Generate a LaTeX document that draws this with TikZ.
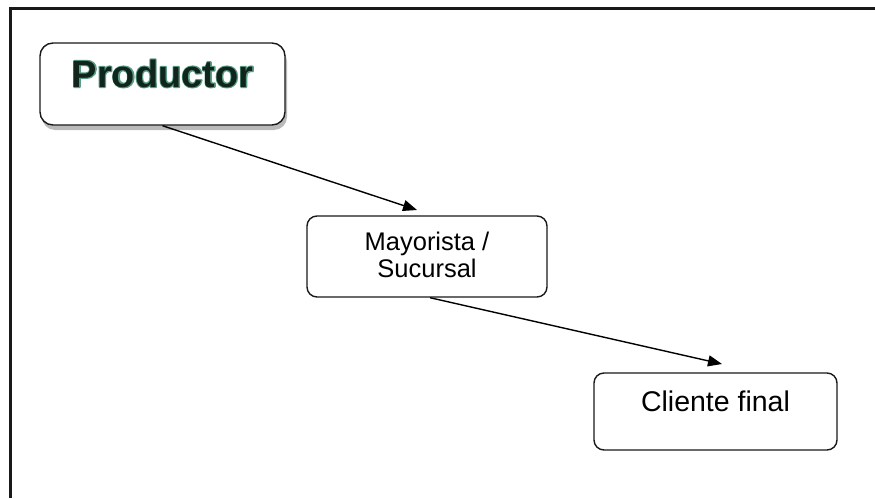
\documentclass[tikz,border=0pt]{standalone}
\usepackage{fontspec}
\setmainfont{Liberation Sans}
\usepackage{xcolor}
\usepackage{tikz}
\usetikzlibrary{arrows.meta,shadows}
\definecolor{prodgreen}{HTML}{10261C}
% halo round the bold title, as in the reference
\newcommand{\glowtext}[1]{\rlap{\special{pdf:code q 1 Tr 0.36 0.62 0.52 RG 2.2 w 1 j}#1\special{pdf:code Q}}#1}
\tikzset{
  chainbox/.style={draw=black!90,line width=1.4pt,rounded corners=10pt,fill=white,inner sep=0pt},
  prodbox/.style={chainbox,rounded corners=13pt,
    drop shadow={shadow xshift=2pt,shadow yshift=-5pt,fill=black!45,opacity=0.6}},
  flowedge/.style={-{Triangle[length=14pt,width=11pt]},line width=1.4pt,black},
  frameline/.style={line width=2.4pt,black!90},
}

\begin{document}
\begin{tikzpicture}[x=1pt,y=-1pt]
    \useasboundingbox (0,0) rectangle (875,498);
    \draw[frameline] (10.5,498) -- (10.5,8.5) -- (875,8.5);
    \node[prodbox,minimum width=245pt,text height=44pt,text depth=38pt,
      font=\fontsize{38}{42}\selectfont\bfseries,text=prodgreen] (prod) at (162.5,84) {\glowtext{Productor}};
    \node[chainbox,minimum width=240pt,text height=61pt,text depth=20pt,align=center,
      font=\fontsize{25.5}{27}\selectfont] (may) at (427,256.5) {Mayorista /\\Sucursal};
    \node[chainbox,minimum width=243pt,text height=38pt,text depth=39pt,
      font=\fontsize{28.5}{30}\selectfont] (cli) at (715.5,411.5) {Cliente final};
    \coordinate (mayin) at (417,210);
    \coordinate (cliin) at (722,364);
    \draw[flowedge] (prod.south) -- (mayin);
    \draw[flowedge] ([xshift=3pt]may.south) -- (cliin);
\end{tikzpicture}
\end{document}
